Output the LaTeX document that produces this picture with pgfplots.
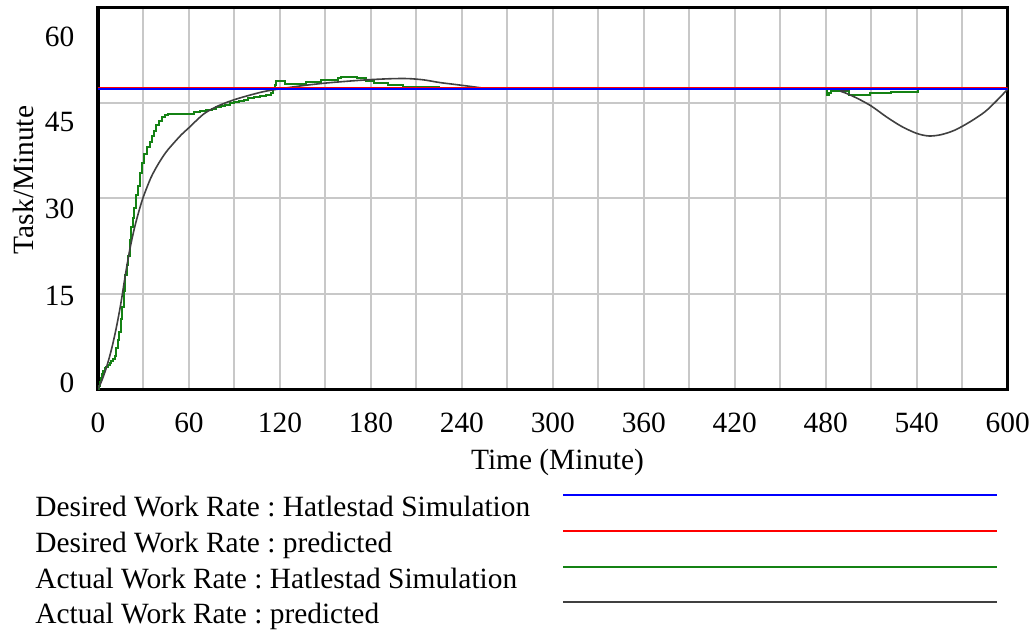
\documentclass[border=0pt]{standalone}
\usepackage{fontspec}
\setmainfont{Liberation Serif}
\usepackage{pgfplots}
\pgfplotsset{compat=1.18}
\definecolor{gridgray}{RGB}{200,200,200}
\definecolor{simgreen}{RGB}{20,130,20}
\definecolor{predgray}{RGB}{64,64,64}
\definecolor{desblue}{RGB}{0,0,255}
\definecolor{desred}{RGB}{255,0,0}
\frenchspacing
\begin{document}
\begin{tikzpicture}[font=\fontsize{14.7pt}{17pt}\selectfont]
\useasboundingbox (0,0) rectangle (517pt,315pt);
\begin{axis}[
  at={(49pt,120.25pt)}, anchor=south west,
  scale only axis, width=454.85pt, height=191.1pt,
  xmin=0, xmax=600, ymin=0, ymax=60,
  xtick={0,60,...,600}, minor xtick={30,90,...,570},
  ytick={0,15,30,45,60}, yticklabels={},
  extra y ticks={1.07,14.71,28.39,41.96,55.33},
  extra y tick labels={0,15,30,45,60},
  extra y tick style={grid=none},
  xmajorgrids, xminorgrids, ymajorgrids,
  grid style={draw=gridgray, line width=1pt},
  minor grid style={draw=gridgray, line width=1pt},
  major tick length=0pt, minor tick length=0pt,
  axis line style={line width=1.6pt},
  tick label style={/pgf/number format/assume math mode=true},
  /pgf/number format/set thousands separator={},
  xticklabel style={anchor=base, inner sep=0pt, yshift=-21.75pt},
  yticklabel style={anchor=east, inner sep=0pt, xshift=-11.65pt},
]
% Actual Work Rate : Hatlestad Simulation
\addplot[simgreen, line width=1pt, const plot] coordinates {
(0,0) (0.7,0.6) (1.4,1.2) (2.1,1.8) (2.8,2.4) (3.5,2.9) (4.4,3.3) (5.5,3.6)
(6.6,3.9) (7.7,4.2) (8.8,4.5) (10,4.8) (11,5.2) (12,6.5) (13,7.8) (14,9.0)
(15,11.0) (16,13.0) (17,15.5) (18,18.0) (19,19.5) (20,21.0) (21,23.5) (22,25.5)
(23,27.0) (24,28.5) (25,30.5) (26.5,32.0) (27.5,34.0) (29,35.5) (30.5,37.0)
(32,38.0) (34,38.8) (35.5,39.8) (37,40.6) (38.5,41.5) (40,42.2) (42,42.8)
(44,43.1) (46,43.3) (63,43.5) (67,43.7) (71,43.9) (75,44.1) (78,44.3) (81,44.5)
(84,44.7) (87,44.9) (90,45.1) (93,45.3) (96,45.5) (99,45.7) (103,45.9) (107,46.1)
(111,46.3) (114,46.6) (115.4,47.2) (116.5,47.8) (117.5,48.4) (123.5,48.0)
(137,48.3) (147,48.6) (158,48.9) (160.5,49.1) (171,48.9) (177,48.5) (182,48.1)
(191,47.8) (201,47.45) (225,47.15) (480,47.15) (480.5,46.3) (482,46.5)
(483.5,46.8) (495.5,46.3) (509.5,46.5) (523,46.7) (541,47.15) (600,47.15)
};
% Actual Work Rate : predicted
\addplot[predgray, line width=0.8pt, smooth] coordinates {
(0,0) (3,1.7) (6,3.8) (9,6.4) (12,9.6) (15,13.4) (18,17.9) (21,22.0) (24,25.3)
(27,28.0) (30,30.3) (35,33.3) (40,35.5) (45,37.3) (50,38.7) (55,40.0) (60,41.1)
(70,43.3) (80,44.6) (90,45.5) (100,46.2) (110,46.8) (120,47.2) (135,47.7)
(150,48.1) (165,48.4) (180,48.65) (195,48.8) (205,48.8) (215,48.6) (225,48.2)
(235,47.9) (245,47.6) (255,47.3) (265,47.2) (280,47.15) (480,47.15)
(490,46.8) (500,45.8) (510,44.5) (520,42.8) (530,41.3) (540,40.2) (548,39.8)
(556,40.0) (565,40.7) (575,42.0) (585,43.6) (593,45.4) (600,47.15)
};
% Desired Work Rate : predicted
\addplot[desred, line width=1.1pt] coordinates {(0,47.3) (600,47.3)};
% Desired Work Rate : Hatlestad Simulation
\addplot[desblue, line width=1pt] coordinates {(0,47.15) (600,47.15)};
\end{axis}
\node[anchor=base, inner sep=0pt] at (278.75pt,80.25pt) {Time (Minute)};
\node[anchor=base, inner sep=0pt, rotate=90] at (16.65pt,225pt) {Task/Minute};
% legend
\node[anchor=base west, inner sep=0pt] at (17.5pt,56.5pt) {Desired Work Rate : Hatlestad Simulation};
\node[anchor=base west, inner sep=0pt] at (17.5pt,38.5pt) {Desired Work Rate : predicted};
\node[anchor=base west, inner sep=0pt] at (17.5pt,20.5pt) {Actual Work Rate : Hatlestad Simulation};
\node[anchor=base west, inner sep=0pt] at (17.5pt,3pt) {Actual Work Rate : predicted};
\draw[desblue, line width=1pt] (281.5pt,67.5pt) -- (498.5pt,67.5pt);
\draw[desred, line width=1pt] (281.5pt,49.5pt) -- (498.5pt,49.5pt);
\draw[simgreen, line width=1pt] (281.5pt,31.5pt) -- (498.5pt,31.5pt);
\draw[predgray, line width=1pt] (281.5pt,14pt) -- (498.5pt,14pt);
\end{tikzpicture}
\end{document}
